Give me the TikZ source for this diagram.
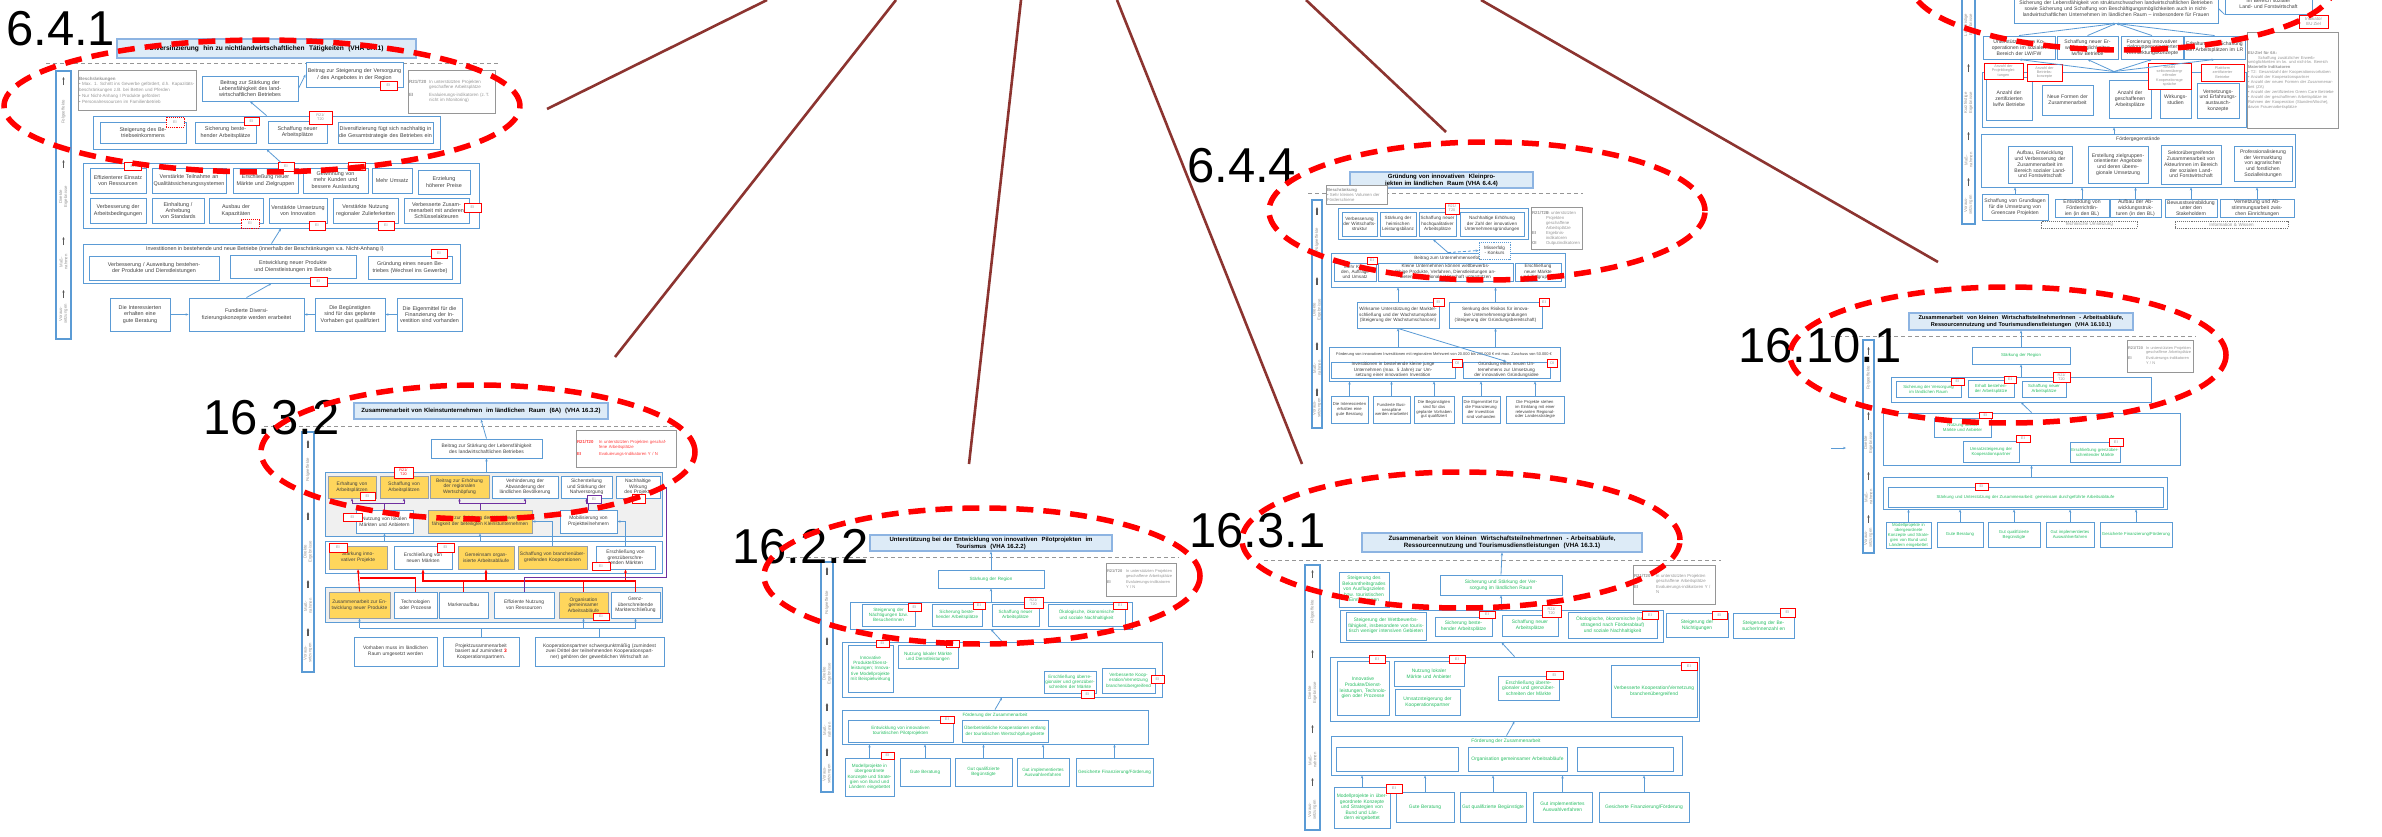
\documentclass[tikz,border=0pt]{standalone}
\usepackage{fontspec}
\setmainfont{Liberation Sans}
\usetikzlibrary{arrows.meta}

\definecolor{boxblue}{RGB}{91,155,213}
\definecolor{ttlfill}{RGB}{221,235,247}
\definecolor{ttldraw}{RGB}{141,180,226}
\definecolor{ybox}{RGB}{255,214,92}
\definecolor{yedge}{RGB}{150,160,170}
\definecolor{grn}{RGB}{40,190,100}
\definecolor{leggray}{RGB}{150,150,150}
\definecolor{txt}{RGB}{64,64,64}
\definecolor{ctgray}{RGB}{240,240,240}
\definecolor{rayred}{RGB}{140,52,48}
\definecolor{purp}{RGB}{112,48,160}

% text size of the boxes, set per diagram
\newcommand\BXfont{\fontsize{5}{5.8}\selectfont}
\newcommand\GXfont{\fontsize{4.8}{5.5}\selectfont}

\tikzset{
  bx/.style={draw=boxblue, line width=0.9pt, fill=white, align=center, inner sep=0.4pt,
    font=\BXfont, text=txt},
  gbx/.style={bx, text=grn},
  gsm/.style={gbx, font=\GXfont},
  ybx/.style={bx, fill=ybox, draw=yedge},
  gbig/.style={bx, font=\fontsize{5.1}{5.8}\selectfont},
  ttl/.style={bx, fill=ttlfill, draw=ttldraw, line width=1.1pt,
    font=\bfseries\fontsize{6}{7}\selectfont, text=black},
  ct/.style={bx},
  ctg/.style={bx, fill=ctgray},
  sidebar/.style={bx, line width=1.1pt},
  legb/.style={bx, draw=leggray, text=leggray, align=left, font=\fontsize{4.3}{5}\selectfont},
  eim/.style={draw=red, line width=0.9pt, fill=white, text=leggray, inner sep=0pt,
    align=center, font=\fontsize{3.8}{4.2}\selectfont},
  eid/.style={eim, densely dotted},
  side/.style={rotate=90, align=center, inner sep=0pt, font=\fontsize{4.3}{4.8}\selectfont, text=leggray},
  lbl/.style={inner sep=0pt, align=center, font=\BXfont, text=txt},
  bigl/.style={anchor=north west, inner sep=0pt, font=\fontsize{49}{49}\selectfont},
  sep/.style={draw=leggray, line width=1pt, dash pattern=on 4pt off 3pt},
  ell/.style={draw=red, line width=5.5pt, dash pattern=on 17pt off 10pt},
  ray/.style={draw=rayred, line width=2.6pt},
  arr/.style={draw=boxblue, line width=0.8pt, -{Stealth[length=3pt,width=2.4pt]}},
  ln/.style={draw=boxblue, line width=0.8pt},
  rarr/.style={draw=red, line width=1.1pt, -{Stealth[length=3.4pt,width=2.8pt]}},
  rln/.style={draw=red, line width=1.1pt},
  parr/.style={draw=purp, line width=0.9pt, -{Stealth[length=3pt,width=2.4pt]}},
  pln/.style={draw=purp, line width=0.9pt},
  sarr/.style={draw=black!65, line width=1.1pt, -{Stealth[length=2.6pt,width=2.4pt]}},
  dotbox/.style={bx, draw=black!55, densely dotted, line width=0.7pt, text=leggray},
}

% box given by its corners: [style]{name}{x1}{y1}{x2}{y2}{text}
\newcommand\Bx[7][]{%
  \pgfmathsetmacro\BXcx{(#3+#5)/2}%
  \pgfmathsetmacro\BXcy{(#4+#6)/2}%
  \pgfmathsetmacro\BXw{#5-#3}%
  \pgfmathsetmacro\BXh{#6-#4}%
  \pgfmathsetmacro\BXtw{max(#5-#3-2,1)}%
  \node[bx,#1,minimum width=\BXw pt,minimum height=\BXh pt,text width=\BXtw pt] (#2) at (\BXcx,\BXcy) {#7};}
% small indicator tag
\newcommand\Ei[7][]{%
  \pgfmathsetmacro\BXcx{(#3+#5)/2}%
  \pgfmathsetmacro\BXcy{(#4+#6)/2}%
  \pgfmathsetmacro\BXw{#5-#3}%
  \pgfmathsetmacro\BXh{#6-#4}%
  \node[eim,#1,minimum width=\BXw pt,minimum height=\BXh pt] (#2) at (\BXcx,\BXcy) {#7};}
% level arrow on the side bar
\newcommand\Up[2]{\draw[sarr] (#1,#2+8) -- (#1,#2);}
% legend table
\newcommand\LegRT[2]{\begin{tabular}{@{}p{#1pt}@{}p{#2pt}@{}}\textbf{R21/T20} & In unterstützten Projekten geschaffene Arbeitsplätze\\[1.5pt] \textbf{EI} & Evaluierungs-indikatoren Y / N\end{tabular}}

\begin{document}
\begin{tikzpicture}[x=1pt,y=-1pt]
\useasboundingbox (0,0) rectangle (2382,836);
\fill[white] (0,0) rectangle (2382,836);

% ---------------- rays ----------------
\coordinate (r1a) at (767,0);  \coordinate (r1b) at (547,109);
\coordinate (r2a) at (896,0);  \coordinate (r2b) at (615,357);
\coordinate (r3a) at (1021,0); \coordinate (r3b) at (969,464);
\coordinate (r4a) at (1117,0); \coordinate (r4b) at (1302,464);
\coordinate (r5a) at (1306,0); \coordinate (r5b) at (1446,132);
\coordinate (r6a) at (1481,0); \coordinate (r6b) at (1938,262);
\draw[ray] (r1a) -- (r1b);
\draw[ray] (r2a) -- (r2b);
\draw[ray] (r3a) -- (r3b);
\draw[ray] (r4a) -- (r4b);
\draw[ray] (r5a) -- (r5b);
\draw[ray] (r6a) -- (r6b);

% ================= VHA 6.4.1 =================
\renewcommand\BXfont{\fontsize{5.4}{6.2}\selectfont}
\coordinate (a_s0) at (46,63); \coordinate (a_s1) at (500,63);
\draw[sep] (a_s0) -- (a_s1);
\Bx[ttl, font=\bfseries\fontsize{6.6}{7.6}\selectfont]{a_t}{117}{39}{416}{58}{Diversifizierung \ hin zu nichtlandwirtschaftlichen \ Tätigkeiten \ (VHA 6.4.1)}
\Bx[sidebar]{a_bar}{56}{71}{71}{339}{}
\node[side] (a_l1) at (63.5,112) {Folgeeffekte};
\node[side] (a_l2) at (63.5,197) {Direkte\\Ergebnisse};
\node[side] (a_l3) at (63.5,262) {Maß-\\nahmen};
\node[side] (a_l4) at (63.5,314) {Voraus-\\setzungen};
\Up{63.5}{77}\Up{63.5}{160}\Up{63.5}{237}\Up{63.5}{290}
\Bx[legb, font=\fontsize{4.5}{5.4}\selectfont]{a_b}{78}{70}{196}{110}{\textbf{Beschränkungen}\\[0.5pt] • Max. 1. Schritt ins Gewerbe gefördert, d.h. Kapazitätsbeschränkungen z.B. bei Betten und Pferden\\[0.5pt] • Nur Nicht-Anhang I Produkte gefördert\\[0.5pt] • Personalressourcen im Familienbetrieb}
\Bx{a_leb}{202}{76}{298}{101}{Beitrag zur Stärkung der Lebensfähigkeit des landwirtschaftlichen Betriebes}
\Bx{a_ver}{306}{62}{403}{87}{Beitrag zur Steigerung der Versorgung / des Angebotes in der Region}
\Bx[legb, font=\fontsize{4.5}{5.3}\selectfont]{a_lg}{408}{70}{495}{113}{\begin{tabular}{@{}p{20pt}@{}p{62pt}@{}}\textbf{R21/T20} & In unterstützten Projekten geschaffene Arbeitsplätze\\[2pt] \textbf{EI} & Evaluierungs-indikatoren (z.\,T. nicht im Monitoring)\end{tabular}}
\Bx[ct]{a_cf}{93}{116}{440}{149}{}
\Bx{a_f1}{100}{122}{186}{143}{Steigerung des Betriebseinkommens}
\Bx{a_f2}{195}{122}{256}{143}{Sicherung bestehender Arbeitsplätze}
\Bx{a_f3}{268}{121}{327}{143}{Schaffung neuer Arbeitsplätze}
\Bx{a_f4}{338}{122}{433}{143}{Diversifizierung fügt sich nachhaltig in die Gesamt\-strategie des Betriebes ein}
\Bx[ct]{a_cd}{83}{163}{479}{228}{}
\Bx{a_d1}{90}{168}{146}{193}{Effizienterer Einsatz von Ressourcen}
\Bx{a_d2}{152}{168}{226}{193}{Verstärkte Teilnahme an Qualitäts\-sicherungssystemen}
\Bx{a_d3}{233}{168}{298}{193}{Erschließung neuer Märkte und Zielgruppen}
\Bx{a_d4}{303}{168}{368}{193}{Gewinnung von mehr Kunden und bessere Auslastung}
\Bx{a_d5}{372}{168}{412}{193}{Mehr Umsatz}
\Bx{a_d6}{418}{170}{470}{194}{Erzielung höherer Preise}
\Bx{a_d7}{90}{198}{146}{223}{Verbesserung der Arbeits\-bedingungen}
\Bx{a_d8}{152}{198}{204}{223}{Einhaltung / Anhebung von Standards}
\Bx{a_d9}{209}{198}{263}{223}{Ausbau der Kapazitäten}
\Bx{a_d10}{269}{198}{327}{223}{Verstärkte Umsetzung von Innovation}
\Bx{a_d11}{333}{198}{398}{223}{Verstärkte Nutzung regionaler Zulieferketten}
\Bx{a_d12}{404}{198}{469}{223}{Verbesserte Zusammenarbeit mit anderen Schlüsselakteuren}
\Bx[ct]{a_cm}{83}{244}{460}{283}{}
\node[lbl] (a_cml) at (265,249.5) {Investitionen in bestehende und neue Betriebe (innerhalb der Beschränkungen v.a. Nicht-Anhang I)};
\Bx{a_m1}{89}{256}{219}{280}{Verbesserung / Ausweitung bestehender Produkte und Dienstleistungen}
\Bx{a_m2}{230}{255}{356}{278}{Entwicklung neuer Produkte und Dienstleistungen im Betrieb}
\Bx{a_m3}{368}{256}{452}{279}{Gründung eines neuen Betriebes (Wechsel ins Gewerbe)}
\Bx{a_v1}{110}{298}{170}{331}{Die Interessierten erhalten eine gute Beratung}
\Bx{a_v2}{189}{298}{304}{331}{Fundierte Diversifizierungskonzepte werden erarbeitet}
\Bx{a_v3}{315}{298}{385}{331}{Die Begünstigten sind für das geplante Vorhaben gut qualifiziert}
\Bx{a_v4}{397}{298}{462}{331}{Die Eigenmittel für die Finanzierung der Investition sind vorhanden}
\Ei{a_e0}{380}{81}{397}{90}{EI}
\Ei[eid]{a_e1}{166}{117}{184}{127}{EI}
\Ei{a_e2}{244}{117}{259}{125}{EI}
\Ei{a_e3}{309}{111}{332}{124}{R21/\\T20}
\Ei{a_e4}{124}{162}{141}{170}{EI}
\Ei{a_e5}{278}{162}{294}{171}{EI}
\Ei{a_e6}{348}{162}{365}{170}{EI}
\Ei[eid]{a_e7}{241}{219}{259}{228}{EI}
\Ei{a_e8}{309}{221}{325}{230}{EI}
\Ei{a_e9}{378}{221}{394}{230}{EI}
\Ei{a_e10}{464}{203}{481}{212}{EI}
\Ei{a_e11}{431}{249}{447}{258}{EI}
\Ei{a_e12}{310}{277}{327}{286}{EI}
\draw[arr] (a_v1.east) -- (a_v2.west);
\draw[arr] (a_v3.west) -- (a_v2.east);
\draw[arr] (a_v4.west) -- (a_v3.east);
\draw[arr] (a_v2.north) -- (a_cm.south);
\draw[arr] (a_cm.north) -- (a_cd.south);
\draw[arr] (a_cd.north) -- (a_cf.south);
\draw[arr] (a_cf.north) -- (a_leb.south);
\draw[arr] (a_leb.east) -- (a_ver.west);

% ================= VHA 16.3.2 =================
\renewcommand\BXfont{\fontsize{4.9}{5.6}\selectfont}
\coordinate (b_s0) at (264,426); \coordinate (b_s1) at (676,426);
\draw[sep] (b_s0) -- (b_s1);
\Bx[ttl]{b_t}{354}{403}{608}{419}{Zusammenarbeit von Kleinstunternehmen \ im ländlichen \ Raum \ (6A) \ (VHA 16.3.2)}
\Bx[sidebar]{b_bar}{302}{432}{314}{672}{}
\node[side] (b_l1) at (308,470) {Folgeeffekte};
\node[side] (b_l2) at (308,552) {Direkte\\Ergebnisse};
\node[side] (b_l3) at (308,606) {Maß-\\nahmen};
\node[side] (b_l4) at (308,653) {Voraus-\\setzungen};
\Up{308}{440}\Up{308}{512}\Up{308}{580}\Up{308}{628}
\Bx{b_leb}{431}{439}{542}{458}{Beitrag zur Stärkung der Lebensfähigkeit des landwirtschaftlichen Betriebes}
\Bx[legb,text=red!75]{b_lg}{576}{430}{676}{467}{\begin{tabular}{@{}p{22pt}@{}p{74pt}@{}}\textbf{R21/T20} & In unterstützten Projekten geschaffene Arbeitsplätze\\[2pt] \textbf{EI} & Evaluierungs-Indikatoren Y / N\end{tabular}}
\Bx[ctg]{b_c1}{325}{472}{662}{536}{}
\Bx[ct]{b_c2}{325}{541}{662}{573}{}
\Bx[ctg]{b_c3}{325}{587}{662}{622}{}
\Bx[ybx]{b_f1}{328}{476}{376}{498}{Erhaltung von Arbeitsplätzen}
\Bx[ybx]{b_f2}{380}{476}{428}{498}{Schaffung von Arbeitsplätzen}
\Bx[ybx]{b_f3}{430}{475}{489}{498}{Beitrag zur Erhöhung der regionalen Wertschöpfung}
\Bx{b_f4}{492}{476}{558}{498}{Verhinderung der Abwanderung der ländlichen Bevölkerung}
\Bx{b_f5}{561}{476}{612}{498}{Sicherstellung und Stärkung der Nahversorgung}
\Bx{b_f6}{616}{476}{660}{498}{Nachhaltige Wirkung des Projekts}
\Bx{b_n1}{356}{510}{413}{533}{Nutzung von lokalen Märkten und Anbietern}
\Bx[ybx]{b_n2}{428}{510}{532}{533}{Beitrag zur Stärkung der Wettbewerbsfähigkeit der beteiligten Kleinstunternehmen}
\Bx{b_n3}{560}{510}{617}{533}{Mobilisierung von Projektteilnehmern}
\Bx[ybx]{b_d1}{329}{546}{387}{569}{Stärkung innovativer Projekte}
\Bx{b_d2}{394}{546}{452}{569}{Erschließung von neuen Märkten}
\Bx[ybx]{b_d3}{458}{546}{514}{569}{Gemeinsam organisierte Arbeitsabläufe}
\Bx[ybx]{b_d4}{518}{546}{587}{569}{Schaffung von branchenübergreifenden Kooperationen}
\Bx{b_d5}{596}{546}{655}{569}{Erschließung von grenzüberschreitenden Märkten}
\Bx[ybx]{b_m1}{329}{592}{390}{618}{Zusammenarbeit zur Entwicklung neuer Produkte}
\Bx{b_m2}{394}{592}{437}{618}{Technologien oder Prozesse}
\Bx{b_m3}{439}{592}{488}{618}{Markenaufbau}
\Bx{b_m4}{494}{592}{554}{618}{Effiziente Nutzung von Ressourcen}
\Bx[ybx]{b_m5}{559}{592}{608}{618}{Organisation gemeinsamer Arbeitsabläufe}
\Bx{b_m6}{611}{592}{660}{618}{Grenz-überschreitende Markterschließung}
\Bx{b_v1}{354}{637}{437}{666}{Vorhaben muss im ländlichen Raum umgesetzt werden}
\Bx{b_v2}{443}{637}{519}{666}{Projektzusammenarbeit basiert auf zumindest {\color{red}\textbf{3}} Kooperationspartnern.}
\Bx{b_v3}{535}{637}{664}{666}{Kooperationspartner schwerpunktmäßig (zumindest zwei Drittel der teilnehmenden Kooperationspartner) gehören der gewerblichen Wirtschaft an}
\Ei[text=red]{b_e1}{394}{467}{413}{478}{R21/\\T20}
\Ei{b_e2}{360}{492}{375}{500}{EI}
\Ei[draw=purp]{b_e3}{587}{495}{601}{503}{EI}
\Ei{b_e4}{632}{494}{645}{503}{EI}
\Ei{b_e5}{343}{513}{362}{521}{EI}
\Ei{b_e6}{329}{543}{347}{552}{EI}
\Ei{b_e7}{437}{543}{454}{552}{EI}
\Ei{b_e8}{592}{562}{610}{570}{EI}
\Ei{b_e9}{593}{613}{609}{620}{EI}
% blue links
\draw[arr] (b_leb.north) -- (b_t.south);
\draw[arr] (b_c1.north -| b_leb.south) -- (b_leb.south);
\draw[arr] (b_c2.north -| b_n1.south) -- (b_n1.south);
\draw[arr] (b_c2.north -| b_n2.south) -- (b_n2.south);
\draw[arr] (b_d4.north) |- (b_n2.east);
\draw[arr] (b_d5.north) |- (b_n3.east);
\coordinate (b_vb) at (0,628);
\draw[ln] (b_v2.north) -- (b_v2.north |- b_vb);
\draw[ln] (b_v3.north) -- (b_v3.north |- b_vb);
\draw[ln] (b_m1.south |- b_vb) -- (b_m6.south |- b_vb);
\draw[arr] (b_m1.south |- b_vb) -- (b_m1.south);
\draw[arr] (b_m5.south |- b_vb) -- (b_m5.south);
\draw[arr] (b_m6.south |- b_vb) -- (b_m6.south);
% red links
\coordinate (b_rb) at (0,581);
\coordinate (b_rb2) at (0,578);
\draw[rarr] (b_m1.north) -- (b_d1.south);
\draw[rln] (b_m2.north) |- (b_m1.north |- b_rb2);
\draw[rarr] (b_m3.north) |- (b_d2.south |- b_rb) -- (b_d2.south);
\draw[rln] (b_m5.north) |- (b_d2.south |- b_rb);
\draw[rln] (b_m5.north) |- (b_d5.south |- b_rb);
\draw[rln] (b_m6.north) |- (b_d5.south |- b_rb);
\draw[rarr] (b_d3.south |- b_rb) -- (b_d3.south);
\draw[rarr] (b_d5.south |- b_rb) -- (b_d5.south);
% purple links
\coordinate (b_pb) at (0,503);
\coordinate (b_pr) at (666,577);
\draw[parr] (b_n1.north) |- (b_f1.south |- b_pb) -- (b_f1.south);
\draw[parr] (b_n1.north) |- (b_f2.south |- b_pb) -- (b_f2.south);
\draw[parr] (b_n2.north) |- (b_f3.south |- b_pb) -- (b_f3.south);
\draw[parr] (b_n2.north) |- (b_f4.south |- b_pb) -- (b_f4.south);
\draw[parr] (b_n3.north) |- (b_f5.south |- b_pb) -- (b_f5.south);
\draw[parr] (b_m4.north) |- (b_pr) |- (b_f6.east);

% ================= VHA 6.4.4 =================
\renewcommand\BXfont{\fontsize{4.6}{5.3}\selectfont}
\coordinate (c_s0) at (1308,193); \coordinate (c_s1) at (1583,193);
\draw[sep] (c_s0) -- (c_s1);
\Bx[ttl]{c_t}{1350}{172}{1533}{188}{Gründung von innovativen \ Kleinprojekten im ländlichen \ Raum (VHA 6.4.4)}
\Bx[legb]{c_b}{1326}{185}{1387}{204}{\textbf{Beschränkung}\\ • Sehr kleines Volumen der Förderschiene}
\Bx[sidebar]{c_bar}{1312}{200}{1322}{428}{}
\node[side] (c_l1) at (1317,240) {Folgeeffekte};
\node[side] (c_l2) at (1317,310) {Direkte\\Ergebnisse};
\node[side] (c_l3) at (1317,368) {Maß-\\nahmen};
\node[side] (c_l4) at (1317,408) {Voraus-\\setzungen};
\Up{1317}{207}\Up{1317}{277}\Up{1317}{342}\Up{1317}{388}
\Bx[ct]{c_cf}{1338}{208}{1528}{239}{}
\Bx{c_f1}{1342}{212}{1377}{236}{Verbesserung der Wirtschafts\-struktur}
\Bx{c_f2}{1380}{212}{1416}{236}{Stärkung der heimischen Leistungsbilanz}
\Bx{c_f3}{1419}{212}{1456}{236}{Schaffung neuer hochqualitativer Arbeitsplätze}
\Bx{c_f4}{1460}{212}{1524}{236}{Nachhaltige Erhöhung der Zahl der innovativen Unternehmens\-gründungen}
\Bx[legb]{c_lg}{1531}{207}{1582}{249}{\begin{tabular}{@{}p{14pt}@{}p{34pt}@{}}\textbf{R21/T20} & In unterstützten Projekten geschaffene Arbeitsplätze\\ \textbf{EI} & Ergebnis-indikatoren\\ \textbf{OI} & Outputindikatoren\end{tabular}}
\Bx[ct]{c_cb}{1331}{253}{1565}{287}{}
\node[lbl] (c_cbl) at (1448,258.5) {Beitrag zum Unternehmenserfolg};
\Bx[dotbox, draw=boxblue, text=txt]{c_ms}{1479}{242}{1510}{259}{Misserfolg - Konkurs}
\Bx{c_b1}{1334}{263}{1376}{281}{Mehr Kunden, Aufträge und Umsatz}
\Bx{c_b2}{1378}{263}{1513}{281}{Kleine Unternehmen können wettbewerbsfähige Produkte, Verfahren, Dienstleistungen anbieten, die regionale Wirtschaft unterstützen}
\Bx{c_b3}{1515}{263}{1561}{281}{Erschließung neuer Märkte und Zielgruppen}
\Bx{c_r1}{1357}{302}{1439}{328}{Wirksame Unterstützung der Markterschließung und der Wachstumsphase (Steigerung der Wachstumschancen)}
\Bx{c_r2}{1449}{302}{1542}{328}{Senkung des Risikos für innovative Unternehmensgründungen (Steigerung der Gründungsbereitschaft)}
\Bx[ct]{c_cm}{1329}{347}{1560}{381}{}
\node[lbl, font=\fontsize{3.9}{4.5}\selectfont] (c_cml) at (1444,354) {Förderung von innovativen Investitionen mit regionalem Mehrwert von 20.000 bis 200.000 € mit max. Zuschuss von 50.000 €};
\Bx{c_m1}{1331}{362}{1455}{378}{Investitionen in bestehende kleine junge Unternehmen (max. 5 Jahre) zur Umsetzung einer innovativen Investition}
\Bx{c_m2}{1463}{362}{1550}{378}{Gründung eines neuen Unternehmens zur Umsetzung der innovativen Gründungsidee}
\Bx[font=\fontsize{4.2}{4.9}\selectfont]{c_v1}{1331}{396}{1368}{423}{Die Interessierten erhalten eine gute Beratung}
\Bx[font=\fontsize{4.2}{4.9}\selectfont]{c_v2}{1373}{396}{1410}{423}{Fundierte Businesspläne werden erarbeitet}
\Bx[font=\fontsize{4.2}{4.9}\selectfont]{c_v3}{1414}{396}{1454}{423}{Die Begünstigten sind für das geplante Vorhaben gut qualifiziert}
\Bx[font=\fontsize{4.2}{4.9}\selectfont]{c_v4}{1462}{396}{1500}{423}{Die Eigenmittel für die Finanzierung der Investition sind vorhanden}
\Bx[font=\fontsize{4.2}{4.9}\selectfont]{c_v5}{1506}{396}{1564}{423}{Die Projekte stehen im Einklang mit einer relevanten Regional- oder Landesstrategie}
\Ei{c_e1}{1445}{203}{1459}{214}{R21/\\T20}
\Ei{c_e2}{1367}{257}{1377}{264}{EI}
\Ei{c_e3}{1433}{298}{1444}{306}{EI}
\Ei{c_e4}{1539}{298}{1549}{306}{EI}
\Ei{c_e5}{1452}{359}{1462}{367}{OI}
\Ei{c_e6}{1547}{359}{1557}{367}{OI}
\foreach \v in {c_v1,c_v2,c_v3,c_v4,c_v5}{\draw[arr] (\v.north) -- (\v.north |- c_cm.south);}
\draw[arr] (c_cm.north -| c_r1.south) -- (c_r1.south);
\draw[arr] (c_cm.north -| c_r2.south) -- (c_r2.south);
\draw[arr] (c_r1.south) -- (c_m2.north);
\draw[arr] (c_r1.north) -- (c_r1.north |- c_cb.south);
\draw[arr] (c_r2.north) -- (c_r2.north |- c_cb.south);
\draw[arr] (c_cb.north) -- (c_cf.south);
\draw[arr, densely dashed] (c_cb.north) -- (c_ms.west);

% ================= VHA 16.10.1 =================
\renewcommand\GXfont{\fontsize{4.3}{5}\selectfont}
\coordinate (d_s0) at (1831,336); \coordinate (d_s1) at (2196,336);
\draw[sep] (d_s0) -- (d_s1);
\Bx[ttl, font=\bfseries\fontsize{5.6}{6.6}\selectfont]{d_t}{1909}{313}{2133}{330}{Zusammenarbeit \ von kleinen \ WirtschaftsteilnehmerInnen \ - Arbeitsabläufe,\\ Ressourcennutzung und Tourismusdienstleistungen \ (VHA 16.10.1)}
\Bx[sidebar]{d_bar}{1863}{340}{1874}{553}{}
\node[side] (d_l1) at (1868.5,378) {Folgeeffekte};
\node[side] (d_l2) at (1868.5,443) {Direkte\\Ergebnisse};
\node[side] (d_l3) at (1868.5,497) {Maß-\\nahmen};
\node[side] (d_l4) at (1868.5,538) {Voraus-\\setzungen};
\Up{1868.5}{347}\Up{1868.5}{412}\Up{1868.5}{472}\Up{1868.5}{515}
\coordinate (d_a0) at (1831,448); \coordinate (d_a1) at (1846,448);
\draw[arr] (d_a0) -- (d_a1);
\Bx[gsm]{d_r}{1972}{347}{2070}{364}{Stärkung der Region}
\Bx[legb, font=\fontsize{3.9}{4.5}\selectfont]{d_lg}{2127}{340}{2193}{372}{\LegRT{18}{46}}
\Bx[ct]{d_cf}{1891}{377}{2151}{402}{}
\Bx[gsm]{d_f1}{1896}{381}{1961}{397}{Sicherung der Versorgung im ländlichen Raum}
\Bx[gsm]{d_f2}{1968}{380}{2014}{397}{Erhalt bestehender Arbeitsplätze}
\Bx[gsm]{d_f3}{2022}{381}{2066}{397}{Schaffung neuer Arbeitsplätze}
\Bx[ct]{d_cd}{1883}{413}{2180}{465}{}
\Bx[gsm]{d_d1}{1934}{418}{1991}{437}{Nutzung lokaler Märkte und Anbieter}
\Bx[gsm]{d_d2}{1963}{441}{2019}{462}{Umsatzsteigerung der Kooperationspartner}
\Bx[gsm]{d_d3}{2070}{442}{2120}{462}{Erschließung grenzüberschreitender Märkte}
\Bx[ct]{d_cm}{1883}{477}{2167}{509}{}
\Bx[gsm]{d_m1}{1888}{487}{2163}{507}{Stärkung und Unterstützung der Zusammenarbeit: gemeinsam durchgeführte Arbeitsabläufe}
\Bx[gsm]{d_v1}{1886}{522}{1931}{548}{Modellprojekte in übergeordnete Konzepte und Strategien von Bund und Ländern eingebettet}
\Bx[gsm]{d_v2}{1937}{522}{1983}{547}{Gute Beratung}
\Bx[gsm]{d_v3}{1988}{522}{2040}{547}{Gut qualifizierte Begünstigte}
\Bx[gsm]{d_v4}{2046}{522}{2094}{547}{Gut implementiertes Auswahlverfahren}
\Bx[gsm]{d_v5}{2100}{522}{2172}{547}{Gesicherte Finanzierung/Förderung}
\Ei{d_e1}{1951}{378}{1964}{385}{EI}
\Ei{d_e2}{2004}{376}{2016}{383}{EI}
\Ei{d_e3}{2053}{372}{2070}{382}{R21/\\T20}
\Ei{d_e4}{1979}{412}{1992}{418}{EI}
\Ei{d_e5}{2016}{435}{2030}{442}{EI}
\Ei{d_e6}{2109}{438}{2123}{446}{EI}
\Ei{d_e7}{1975}{483}{1988}{490}{EI}
\draw[arr] (d_r.north) -- (d_t.south);
\draw[arr] (d_cf.north -| d_r.south) -- (d_r.south);
\draw[arr] (d_cd.north) -- (d_cf.south);
\draw[arr] (d_cm.north -| d_cd.south) -- (d_cd.south);
\foreach \v in {d_v1,d_v2,d_v3,d_v4,d_v5}{\draw[arr] (\v.north) -- (\v.north |- d_cm.south);}

% ================= VHA 16.2.2 =================
\renewcommand\GXfont{\fontsize{4.6}{5.3}\selectfont}
\coordinate (e_s0) at (786,557); \coordinate (e_s1) at (1179,557);
\draw[sep] (e_s0) -- (e_s1);
\Bx[ttl]{e_t}{870}{535}{1112}{551}{Unterstützung bei der Entwicklung von innovativen \ Pilotprojekten \ im\\ Tourismus \ (VHA 16.2.2)}
\Bx[sidebar]{e_bar}{821}{562}{833}{792}{}
\node[side] (e_l1) at (827,603) {Folgeeffekte};
\node[side] (e_l2) at (827,674) {Direkte\\Ergebnisse};
\node[side] (e_l3) at (827,730) {Maß-\\nahmen};
\node[side] (e_l4) at (827,774) {Voraus-\\setzungen};
\Up{827}{567}\Up{827}{637}\Up{827}{703}\Up{827}{748}
\Bx[gsm]{e_r}{938}{570}{1044}{588}{Stärkung der Region}
\Bx[legb, font=\fontsize{4}{4.6}\selectfont]{e_lg}{1106}{563}{1176}{596}{\LegRT{19}{48}}
\Bx[ct]{e_cf}{850}{602}{1132}{629}{}
\Bx[gsm]{e_f1}{862}{604}{915}{626}{Steigerung der Nächtigungen bzw. BesucherInnen}
\Bx[gsm]{e_f2}{932}{604}{982}{626}{Sicherung bestehender Arbeitsplätze}
\Bx[gsm]{e_f3}{992}{604}{1039}{626}{Schaffung neuer Arbeitsplätze}
\Bx[gsm]{e_f4}{1048}{604}{1125}{626}{Ökologische, ökonomische und soziale Nachhaltigkeit}
\Bx[ct]{e_cd}{842}{642}{1162}{697}{}
\Bx[gsm]{e_d1}{848}{645}{893}{692}{Innovative Produkte/Dienst\-leistungen; Innovative Modellprojekte mit Beispielwirkung}
\Bx[gsm]{e_d2}{898}{645}{958}{668}{Nutzung lokaler Märkte und Dienstleistungen}
\Bx[gsm]{e_d3}{1044}{671}{1096}{693}{Erschließung überregionaler und grenzüberschreiten der Märkte}
\Bx[gsm]{e_d4}{1102}{668}{1155}{693}{Verbesserte Kooperation/Vernetzung branchenübergreifend}
\Bx[ct]{e_cm}{842}{710}{1148}{744}{}
\node[lbl, text=grn, font=\GXfont] (e_cml) at (995,715.5) {Förderung der Zusammenarbeit};
\Bx[gsm]{e_m1}{848}{720}{953}{742}{Entwicklung von innovativen touristischen Pilotprojekten}
\Bx[gsm]{e_m2}{962}{720}{1048}{742}{Überbetriebliche Kooperationen entlang der touristischen Wertschöpfungskette}
\Bx[gsm]{e_v1}{845}{758}{894}{796}{Modellprojekte in übergeordnete Konzepte und Strategien von Bund und Ländern eingebettet}
\Bx[gsm]{e_v2}{900}{758}{950}{786}{Gute Beratung}
\Bx[gsm]{e_v3}{955}{758}{1012}{786}{Gut qualifizierte Begünstigte}
\Bx[gsm]{e_v4}{1017}{758}{1069}{786}{Gut implementiertes Auswahlverfahren}
\Bx[gsm]{e_v5}{1076}{758}{1153}{786}{Gesicherte Finanzierung/Förderung}
\Ei{e_e1}{908}{603}{921}{611}{EI}
\Ei{e_e2}{973}{602}{985}{609}{EI}
\Ei{e_e3}{1024}{597}{1043}{608}{R21/\\T20}
\Ei{e_e4}{1113}{602}{1127}{609}{EI}
\Ei{e_e5}{876}{640}{889}{647}{EI}
\Ei{e_e6}{946}{640}{959}{647}{EI}
\Ei{e_e7}{1081}{690}{1094}{698}{EI}
\Ei{e_e8}{1151}{675}{1164}{683}{EI}
\Ei{e_e9}{940}{716}{954}{723}{EI}
\Ei{e_e10}{881}{752}{894}{759}{EI}
\draw[arr] (e_r.north) -- (e_t.south);
\draw[arr] (e_cf.north -| e_r.south) -- (e_r.south);
\draw[arr] (e_cd.north) -- (e_cf.south);
\draw[arr] (e_cm.north) -- (e_cd.south);
\foreach \v in {e_v1,e_v2,e_v3,e_v4,e_v5}{\draw[arr] (\v.north) -- (\v.north |- e_cm.south);}

% ================= VHA 16.3.1 =================
\renewcommand\GXfont{\fontsize{4.9}{5.6}\selectfont}
\coordinate (f_s0) at (1264,560); \coordinate (f_s1) at (1721,560);
\draw[sep] (f_s0) -- (f_s1);
\Bx[ttl, font=\bfseries\fontsize{6.2}{7.2}\selectfont]{f_t}{1362}{533}{1642}{552}{Zusammenarbeit \ von kleinen \ WirtschaftsteilnehmerInnen \ - Arbeitsabläufe,\\ Ressourcennutzung und Tourismusdienstleistungen \ (VHA 16.3.1)}
\Bx[sidebar]{f_bar}{1305}{565}{1320}{830}{}
\node[side] (f_l1) at (1312.5,612) {Folgeeffekte};
\node[side] (f_l2) at (1312.5,693) {Direkte\\Ergebnisse};
\node[side] (f_l3) at (1312.5,760) {Maß-\\nahmen};
\node[side] (f_l4) at (1312.5,810) {Voraus-\\setzungen};
\Up{1312.5}{570}\Up{1312.5}{650}\Up{1312.5}{725}\Up{1312.5}{778}
\Bx[gsm]{f_k}{1339}{572}{1389}{607}{Steigerung des Bekanntheitsgrades von Ausflugszielen bzw. touristischen Einrichtungen}
\Bx[gsm]{f_r}{1440}{575}{1562}{595}{Sicherung und Stärkung der Versorgung im ländlichen Raum}
\Bx[legb]{f_lg}{1633}{565}{1715}{604}{\LegRT{22}{57}}
\Bx[ct]{f_cf}{1340}{610}{1663}{642}{}
\Bx[gsm]{f_f1}{1346}{612}{1426}{640}{Steigerung der Wettbewerbsfähigkeit, insbesondere von touristisch weniger intensiven Gebieten}
\Bx[gsm]{f_f2}{1435}{617}{1492}{636}{Sicherung bestehender Arbeitsplätze}
\Bx[gsm]{f_f3}{1502}{615}{1558}{636}{Schaffung neuer Arbeitsplätze}
\Bx[gsm]{f_f4}{1568}{612}{1657}{638}{Ökologische, ökonomische (selbsttragend nach Förderablauf) und soziale Nachhaltigkeit}
\Bx[gsm]{f_f5}{1666}{613}{1728}{637}{Steigerung der Nächtigungen}
\Bx[gsm]{f_f6}{1733}{613}{1794}{638}{Steigerung der BesucherInnenzahl en}
\Bx[ct]{f_cd}{1330}{657}{1699}{721}{}
\Bx[gsm]{f_d1}{1337}{661}{1389}{715}{Innovative Produkte/Dienst\-leistungen, Technologien oder Prozesse}
\Bx[gsm]{f_d2}{1394}{661}{1464}{686}{Nutzung lokaler Märkte und Anbieter}
\Bx[gsm]{f_d3}{1395}{689}{1460}{715}{Umsatzsteigerung der Kooperationspartner}
\Bx[gsm]{f_d4}{1498}{676}{1559}{700}{Erschließung überregionaler und grenzüberschreiten der Märkte}
\Bx[gsm]{f_d5}{1611}{665}{1697}{717}{Verbesserte Kooperation/Vernetzung branchenübergreifend}
\Bx[ct]{f_cm}{1331}{736}{1682}{775}{}
\node[lbl, text=grn, font=\GXfont] (f_cml) at (1506,741) {Förderung der Zusammenarbeit};
\Bx{f_m1}{1336}{747}{1458}{771}{}
\Bx[gsm]{f_m2}{1468}{747}{1567}{771}{Organisation gemeinsamer Arbeitsabläufe}
\Bx{f_m3}{1577}{747}{1673}{771}{}
\Bx[gsm]{f_v1}{1334}{787}{1390}{828}{Modellprojekte in übergeordnete Konzepte und Strategien von Bund und Ländern eingebettet}
\Bx[gsm]{f_v2}{1396}{792}{1454}{822}{Gute Beratung}
\Bx[gsm]{f_v3}{1460}{792}{1526}{822}{Gut qualifizierte Begünstigte}
\Bx[gsm]{f_v4}{1533}{792}{1592}{822}{Gut implementiertes Auswahlverfahren}
\Bx[gsm]{f_v5}{1599}{792}{1689}{822}{Gesicherte Finanzierung/Förderung}
\Ei{f_e1}{1479}{611}{1495}{618}{EI}
\Ei{f_e2}{1542}{605}{1561}{617}{R21/\\T20}
\Ei{f_e3}{1642}{611}{1658}{619}{EI}
\Ei{f_e4}{1712}{611}{1727}{619}{EI}
\Ei{f_e5}{1780}{608}{1795}{617}{EI}
\Ei{f_e6}{1369}{655}{1385}{663}{EI}
\Ei{f_e7}{1449}{655}{1465}{663}{EI}
\Ei{f_e8}{1546}{671}{1563}{679}{EI}
\Ei{f_e9}{1681}{662}{1697}{670}{EI}
\Ei{f_e10}{1386}{784}{1402}{793}{EI}
\draw[arr] (f_r.north) -- (f_t.south);
\draw[arr] (f_cf.north -| f_r.south) -- (f_r.south);
\draw[arr] (f_cd.north) -- (f_cf.south);
\draw[arr] (f_cm.north) -- (f_cd.south);
\foreach \v in {f_v1,f_v2,f_v3,f_v4,f_v5}{\draw[arr] (\v.north) -- (\v.north |- f_cm.south);}

% ================= Green Care (top right) =================
\Bx[sidebar]{g_bar}{1962}{-6}{1975}{224}{}
\node[side] (g_l1) at (1968.5,25) {Langfristige\\Ergebnisse};
\node[side] (g_l2) at (1968.5,103) {Kurzfristige\\Ergebnisse};
\node[side] (g_l3) at (1968.5,160) {Maß-\\nahmen};
\node[side] (g_l4) at (1968.5,205) {Voraus-\\setzungen};
\Up{1968.5}{64}\Up{1968.5}{132}\Up{1968.5}{178}
\Bx[gbig]{g_top}{2014}{-6}{2218}{23}{Sicherung der Lebensfähigkeit von strukturschwachen landwirtschaftlichen Betrieben sowie Sicherung und Schaffung von Beschäftigungsmöglichkeiten auch in nicht-landwirtschaftlichen Unternehmen im ländlichen Raum – insbesondere für Frauen}
\Bx[gbig]{g_tr}{2225}{-6}{2312}{14}{im Bereich sozialer Land- und Forstwirtschaft}
\Ei[font=\fontsize{4.4}{5}\selectfont]{g_ind}{2299}{15}{2328}{28}{Indikator\\EU Ziel}
\Bx[gbig]{g_l1b}{1983}{36}{2055}{59}{Unterstützung von Kooperationen im sozialen Bereich der LW/FW}
\Bx[gbig]{g_l2b}{2057}{36}{2118}{59}{Schaffung neuer Erwerbsmöglichkeiten lw/fw Betriebe}
\Bx[gbig]{g_l3b}{2121}{36}{2183}{59}{Forcierung innovativer zielgruppenorientierter Vermarktungskonzepte}
\Bx[gbig]{g_l4b}{2184}{36}{2245}{59}{Erhaltung und Schaffung von Arbeitsplätzen im LR}
\Bx[legb, font=\fontsize{4.1}{4.9}\selectfont]{g_eu}{2247}{32}{2338}{128}{\textbf{EU-Ziel für 6A:}\\ \hspace*{10pt}Schaffung zusätzlicher Erwerbsmöglichkeiten im lw. und nicht-lw. Bereich\\ \textbf{Materielle Indikatoren}\\ • T2: Gesamtzahl der Kooperationsvorhaben\\ • Anzahl der Kooperationspartner\\ • Anzahl der neuen Formen der Zusammenarbeit (ZA)\\ • Anzahl der zertifizierten Green Care Betriebe\\ • Anzahl der geschaffenen Arbeitsplätze im Rahmen der Kooperation (Stunden/Woche), davon Frauenarbeitsplätze}
\Bx[ct]{g_ck}{1982}{72}{2246}{127}{}
\Bx[gbig]{g_k1}{1986}{77}{2032}{120}{Anzahl der zertifizierten lw/fw Betriebe}
\Bx[gbig]{g_k2}{2042}{85}{2093}{115}{Neue Formen der Zusammenarbeit}
\Bx[gbig]{g_k3}{2109}{80}{2151}{118}{Anzahl der geschaffenen Arbeitsplätze}
\Bx[gbig]{g_k4}{2160}{82}{2191}{118}{Wirkungs-\\studien}
\Bx[gbig]{g_k5}{2197}{83}{2239}{118}{Vernetzungs- und Erfahrungs-austausch-konzepte}
\Ei{g_i1}{1984}{63}{2023}{79}{Anzahl der\\Projektbeglei-\\tungen}
\Ei{g_i2}{2027}{64}{2062}{81}{Anzahl der\\Betriebs-\\konzepte}
\Ei{g_i3}{2148}{63}{2191}{89}{Anzahl\\sektorenübergr\\eifender\\Kooperationsge\\spräche}
\Ei{g_i4}{2201}{64}{2244}{81}{Plattform\\zertifizierter\\Betriebe}
\Bx[ct]{g_cf}{1981}{134}{2295}{187}{}
\node[lbl, font=\fontsize{5}{5.8}\selectfont] (g_cfl) at (2138,139) {Fördergegenstände};
\Bx[gbig]{g_m1}{2008}{146}{2072}{183}{Aufbau, Entwicklung und Verbesserung der Zusammenarbeit im Bereich sozialer Land- und Forstwirtschaft}
\Bx[gbig]{g_m2}{2088}{146}{2148}{183}{Erstellung zielgruppen-orientierter Angebote und deren überregionale Umsetzung}
\Bx[gbig]{g_m3}{2161}{145}{2221}{184}{Sektorübergreifende Zusammenarbeit von AkteurInnen im Bereich der sozialen Land- und Forstwirtschaft}
\Bx[gbig]{g_m4}{2234}{146}{2292}{181}{Professionalisierung der Vermarktung von agrarischen und forstlichen Sozialleistungen}
\Bx[gbig]{g_v1}{1982}{194}{2048}{220}{Schaffung von Grundlagen für die Umsetzung von Greencare Projekten}
\Bx[gbig]{g_v2}{2055}{199}{2109}{217}{Entwicklung von Förderrichtlinien (in den BL)}
\Bx[gbig]{g_v3}{2110}{199}{2161}{217}{Aufbau der Abwicklungsstrukturen (in den BL)}
\Bx[gbig]{g_v4}{2165}{199}{2217}{217}{Bewusstseinsbildung unter den Stakeholdern}
\Bx[gbig]{g_v5}{2220}{199}{2294}{217}{Vernetzung und Abstimmungsarbeit zwischen Einrichtungen}
\Bx[dotbox]{g_tu}{2041}{221}{2137}{228}{Technische Umsetzung}
\Bx[dotbox]{g_iw}{2175}{221}{2288}{228}{Information \& Wissen}
\foreach \v in {g_v1,g_v2,g_v3,g_v4,g_v5}{\draw[arr] (\v.north) -- (\v.north |- g_cf.south);}
\draw[arr] (g_cf.north -| g_ck.south) -- (g_ck.south);
\foreach \v in {g_l1b,g_l2b,g_l3b,g_l4b}{\draw[arr] (g_ck.north) -- (\v.south);}
\foreach \v in {g_l1b,g_l2b,g_l3b,g_l4b}{\draw[arr] (\v.north) -- (g_top.south);}
\draw[ln] (g_top.east) -- (g_tr.south west);

% ---------------- measure numbers ----------------
\node[bigl] (lab641) at (6,11) {6.4.1};
\node[bigl] (lab1632) at (203,400) {16.3.2};
\node[bigl] (lab644) at (1187,148) {6.4.4};
\node[bigl] (lab16101) at (1738,328) {16.10.1};
\node[bigl] (lab1622) at (732,529) {16.2.2};
\node[bigl] (lab1631) at (1189,513) {16.3.1};

% ---------------- highlight rings ----------------
\draw[ell] (262,106) ellipse [x radius=258pt, y radius=66pt];
\draw[ell] (478,452) ellipse [x radius=217pt, y radius=67pt];
\draw[ell] (1487,211) ellipse [x radius=218pt, y radius=69pt];
\draw[ell] (2008,355) ellipse [x radius=218pt, y radius=68pt];
\draw[ell] (982,576) ellipse [x radius=218pt, y radius=68pt];
\draw[ell] (1461,540) ellipse [x radius=219pt, y radius=68pt];
\draw[ell] (2123,-16) ellipse [x radius=212pt, y radius=66pt];
\end{tikzpicture}
\end{document}
